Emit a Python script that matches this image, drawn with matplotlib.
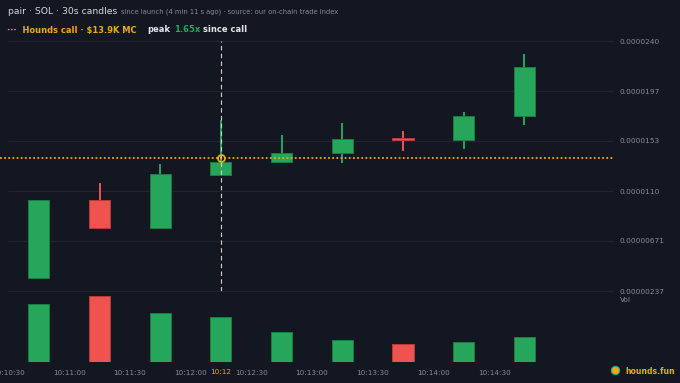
import numpy as np
import pandas as pd
import matplotlib
matplotlib.use('Agg')
import matplotlib.pyplot as plt
from matplotlib.transforms import blended_transform_factory

# velas de 30s (precio en unidades de 1e-6 SOL)
candle_times = ['10:10:45', '10:11:15', '10:11:45', '10:12:15', '10:12:45',
                '10:13:15', '10:13:45', '10:14:15', '10:14:45']
opens = [3.52, 10.26, 7.81, 12.40, 13.53, 14.31, 15.53, 15.46, 17.55]
closes = [10.26, 7.81, 12.49, 13.58, 14.34, 15.55, 15.49, 17.55, 21.77]
highs = [10.26, 11.71, 13.38, 17.20, 15.90, 16.91, 16.25, 17.89, 22.92]
lows = [3.52, 7.72, 7.78, 12.40, 13.53, 13.47, 14.54, 14.68, 16.74]
volumes = [29.2, 33.0, 24.7, 22.4, 14.9, 10.9, 9.0, 10.0, 12.5]

price_ticks = [2.37, 6.71, 11.04, 15.38, 19.71, 24.05]
price_labels = ['0.00000237', '0.00000671', '0.0000110', '0.0000153', '0.0000197', '0.0000240']
time_ticks = ['10:10:30', '10:11:00', '10:11:30', '10:12:00', '10:12:30',
              '10:13:00', '10:13:30', '10:14:00', '10:14:30']

call_time = '10:12:15'
call_label = '10:12'
call_price = 13.93
call_text = 'Hounds call · $13.9K MC'
peak_mult = '1.65x'

# colores
BG = '#131722'
GRID = '#1f2431'
GREEN = '#26a65b'
GREEN_EDGE = '#1b7a43'
RED = '#ef5350'
RED_EDGE = '#b33c3a'
ORANGE = '#e6ac12'
MUTED = '#878c97'
W, H = 680, 383


def segundos(s):
    return pd.to_timedelta(s).total_seconds() - pd.to_timedelta('10:10:30').total_seconds()


x = np.array([segundos(t) for t in candle_times])
xt = [segundos(t) for t in time_ticks]
x_call = segundos(call_time)
xmin, xmax = -4.2, 298.8
ancho = 10.4

fig = plt.figure(figsize=(W / 100, H / 100), dpi=100, facecolor=BG)
ax = fig.add_axes([0, 1 - 291 / H, 613 / W, 250 / H], facecolor=BG)
axv = fig.add_axes([0, 1 - 362 / H, 613 / W, 66 / H], facecolor=BG, sharex=ax)

for a in (ax, axv):
    for s in a.spines.values():
        s.set_visible(False)

# lineas de la grilla
ax.hlines(price_ticks, 0, xmax, color=GRID, lw=0.9, zorder=0, clip_on=False)

o = np.array(opens)
c = np.array(closes)
sube = c >= o
colores = np.where(sube, GREEN, RED)
bordes = np.where(sube, GREEN_EDGE, RED_EDGE)

ax.vlines(x, lows, highs, color=colores, lw=1.4, zorder=2)
cuerpo = np.maximum(np.abs(c - o), 0.12)
ax.bar(x, cuerpo, bottom=np.minimum(o, c), width=ancho, color=colores,
       edgecolor=bordes, lw=0.7, zorder=3)

# linea del call
ax.axhline(call_price, color=ORANGE, lw=1.3, ls=(0, (1, 1.3)), zorder=4)
ax.axvline(x_call, color='#d8d0b8', lw=0.8, ls=(0, (4, 3)), zorder=4)
ax.plot(x_call, call_price, 'o', mfc='none', mec=ORANGE, ms=5, mew=1.3, zorder=5)

ax.set_ylim(price_ticks[0], price_ticks[-1])
ax.set_xlim(xmin, xmax)
ax.yaxis.tick_right()
ax.set_yticks(price_ticks)
ax.set_yticklabels(price_labels)
ax.tick_params(axis='y', length=0, pad=5, labelsize=5.3, labelcolor=MUTED)
ax.tick_params(axis='x', bottom=False, labelbottom=False)

# volumen
axv.bar(x, volumes, width=ancho, color=colores, edgecolor=bordes, lw=0.7)
axv.set_ylim(0, max(volumes))
axv.set_yticks([])
axv.set_xticks(xt)
axv.set_xticklabels(time_ticks)
axv.tick_params(axis='x', length=0, pad=6, labelsize=5.2, labelcolor=MUTED)
trans = blended_transform_factory(axv.transData, fig.transFigure)
axv.text(x_call, 1 - 372 / H, call_label, transform=trans, ha='center', va='center',
         fontsize=5.2, color=ORANGE)
fig.text(620 / W, 1 - 300 / H, 'Vol', fontsize=5.3, color=MUTED, va='center', ha='left')

# titulos
rend = fig.canvas.get_renderer()


def en_linea(partes, x0, y0):
    xp = x0
    for s, color, size, peso, gap in partes:
        t = fig.text(xp / W, 1 - y0 / H, s, color=color, fontsize=size,
                     fontweight=peso, va='center', ha='left')
        bb = t.get_window_extent(renderer=rend)
        xp = bb.x1 + gap


en_linea([('pair · SOL · 30s candles', '#d5d8de', 6.7, 'normal', 3.5),
          ('since launch (4 min 11 s ago) · source: our on-chain trade index', MUTED, 4.9, 'normal', 0)],
         8, 12)
en_linea([('···  ' + call_text, ORANGE, 6.0, 'bold', 11),
          ('peak', '#e4e6ea', 6.0, 'bold', 3),
          (peak_mult, GREEN, 6.0, 'bold', 3),
          ('since call', '#e4e6ea', 6.0, 'bold', 0)],
         7, 30)

# logo
fig.text(625 / W, 1 - 371 / H, 'hounds.fun', fontsize=5.6, fontweight='bold',
         color=ORANGE, va='center', ha='left')
fig.add_artist(plt.Line2D([615 / W], [1 - 370 / H], marker='o', ms=6,
                          color=ORANGE, mec='#2a9d8f', mew=0.8, transform=fig.transFigure))

fig.savefig('out.png', dpi=100, facecolor=BG)
